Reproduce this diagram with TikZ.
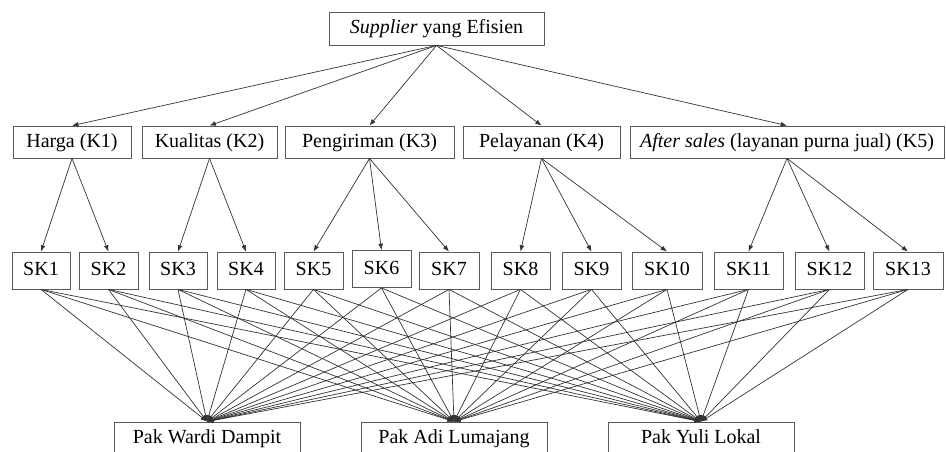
\documentclass[tikz,border=0pt]{standalone}
\usepackage{fontspec}
\setmainfont{Liberation Serif}
\usetikzlibrary{arrows.meta}

\begin{document}
\begin{tikzpicture}[x=0.5pt, y=-0.5pt,
    kotak/.style={draw=black!65, line width=0.4pt, inner sep=0pt, minimum height=16pt,
      text height=7pt, text depth=2pt},
    panah/.style={-{Latex[length=3.2pt,width=2.4pt]}, draw=black!80, line width=0.35pt}]
  \useasboundingbox (0,0) rectangle (946,451);

  % Tujuan
  \node[kotak, minimum width=107.5pt, minimum height=16.5pt] (T) at (436.5,28.5) {\textit{Supplier} yang Efisien};

  % Kriteria
  \foreach \i/\x/\w/\teks in {1/72/59/Harga (K1), 2/209.5/67.5/Kualitas (K2),
      3/369.5/84.5/Pengiriman (K3), 4/541.5/78.5/Pelayanan (K4),
      5/787/157/\textit{After sales} (layanan purna jual) (K5)} {
    \node[kotak, minimum width=\w pt] (k\i) at (\x,142) {\teks};
  }

  % Subkriteria
  \foreach \i/\x/\y/\w in {1/41/270.5/29, 2/108.5/270.5/29.5, 3/178/270.5/29,
      4/246/270.5/29, 5/313.5/270.5/29.5, 6/381.5/269/29.5, 7/449/270.5/30,
      8/520.5/270.5/29.5, 9/591.5/270.5/29.5, 10/667/270.5/35,
      11/748.5/270.5/34.5, 12/829.5/270.5/34.5, 13/908/270.5/35} {
    \node[kotak, minimum width=\w pt, minimum height=18.5pt] (sk\i) at (\x,\y) {SK\i};
  }

  % Alternatif
  \node[kotak, minimum width=93pt, minimum height=16.5pt] (pw) at (207,438.5) {Pak Wardi Dampit};
  \node[kotak, minimum width=93pt, minimum height=16.5pt] (pa) at (454,438.5) {Pak Adi Lumajang};
  \node[kotak, minimum width=93pt, minimum height=16.5pt] (py) at (701,438.5) {Pak Yuli Lokal};

  % Panah tujuan ke kriteria
  \foreach \i in {1,...,5} {
    \draw[panah] (T.south) -- (k\i.north);
  }

  % Panah kriteria ke subkriteria
  \foreach \k/\s in {1/1,1/2,2/3,2/4,3/5,3/6,3/7,4/8,4/9,4/10,5/11,5/12,5/13} {
    \draw[panah] (k\k.south) -- (sk\s.north);
  }

  % Panah subkriteria ke alternatif
  \foreach \s in {1,...,13} {
    \foreach \a in {pw,pa,py} {
      \draw[panah] (sk\s.south) -- (\a.north);
    }
  }
\end{tikzpicture}
\end{document}
